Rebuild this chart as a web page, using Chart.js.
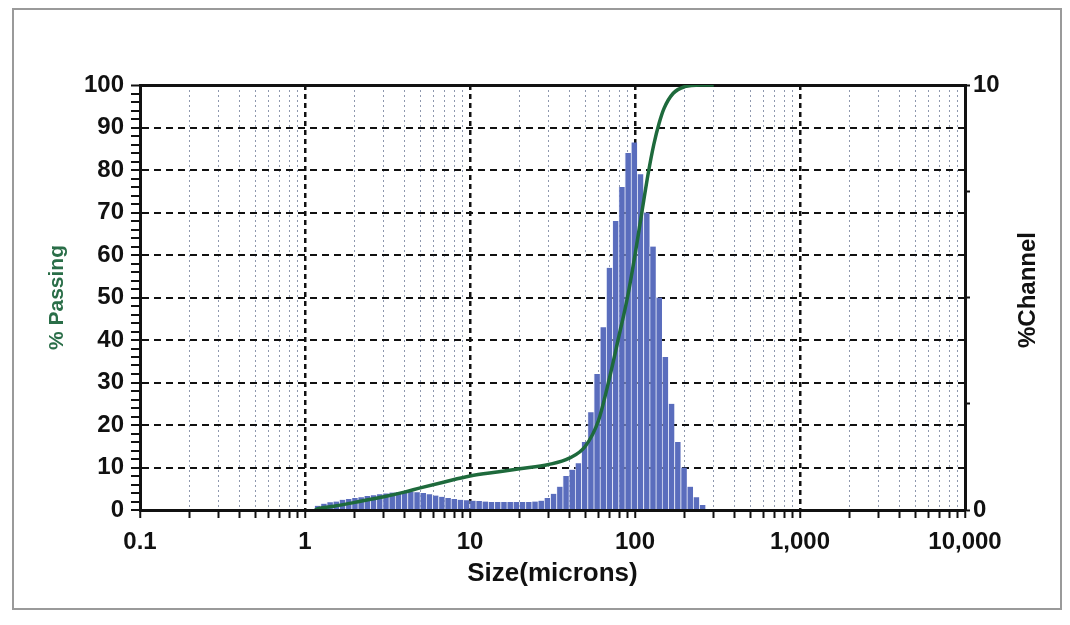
<!DOCTYPE html>
<html>
<head>
<meta charset="utf-8">
<script src="https://cdn.jsdelivr.net/npm/chart.js@4"></script>
<style>
    body { margin: 0; background: #fff; }
    #wrap { position: relative; width: 1070px; height: 625px; }
    #frame {
        position: absolute; left: 12px; top: 8px; width: 1050px; height: 602px;
        border: 2px solid #9a9a9a; box-sizing: border-box;
    }
    #channel-title {
        position: absolute; left: 1027px; top: 290px;
        transform: translate(-50%, -50%) rotate(-90deg);
        font: bold 24px "Liberation Sans", Arial, sans-serif; color: #111; white-space: nowrap;
    }
</style>
</head>
<body>
<div id="wrap">
    <div id="frame"></div>
    <canvas id="chart" width="1070" height="625"></canvas>
    <div id="channel-title">%Channel</div>
</div>
<script>
// channel sizes (microns) and % in channel
const channelSizes = [1.189, 1.297, 1.414, 1.542, 1.682, 1.834, 2.000, 2.181, 2.378, 2.594,
    2.828, 3.084, 3.364, 3.668, 4.000, 4.362, 4.757, 5.187, 5.657, 6.169,
    6.727, 7.336, 8.000, 8.724, 9.514, 10.37, 11.31, 12.34, 13.45, 14.67,
    16.00, 17.45, 19.03, 20.75, 22.63, 24.68, 26.91, 29.34, 32.00, 34.90,
    38.05, 41.50, 45.25, 49.35, 53.82, 58.69, 64.00, 69.79, 76.11, 83.00,
    90.51, 98.70, 107.6, 117.4, 128.0, 139.6, 152.2, 166.0, 181.0, 197.4,
    215.3, 234.8, 256.0];
const channelPct = [0.10, 0.15, 0.18, 0.20, 0.24, 0.26, 0.28, 0.30, 0.33, 0.35,
    0.37, 0.39, 0.41, 0.42, 0.43, 0.43, 0.42, 0.40, 0.37, 0.34,
    0.31, 0.28, 0.26, 0.24, 0.23, 0.22, 0.21, 0.20, 0.19, 0.19,
    0.19, 0.19, 0.19, 0.19, 0.19, 0.20, 0.22, 0.28, 0.38, 0.55,
    0.80, 0.95, 1.10, 1.60, 2.30, 3.20, 4.30, 5.70, 6.80, 7.60,
    8.40, 8.65, 7.90, 7.00, 6.20, 5.00, 3.60, 2.50, 1.60, 1.00,
    0.55, 0.30, 0.12];

// cumulative % passing curve
const passSizes = [1.15, 1.2, 1.5, 2, 3, 4, 5, 7, 10, 15, 20, 30, 40, 50, 60,
    70, 80, 90, 100, 110, 120, 130, 140, 150, 170, 200, 250, 300];
const passPct = [0, 0.3, 0.9, 1.8, 3.1, 4.2, 5.2, 6.6, 8.0, 9.0, 9.7, 10.7, 12.2, 15, 21,
    31, 41, 50, 60, 70, 79, 86, 91, 94.5, 98, 99.6, 100, 100];

// axis ticks
const sizeDecades = [0.1, 1, 10, 100, 1000, 10000];
const sizeLabels = ['0.1', '1', '10', '100', '1,000', '10,000'];
const passingLabels = [0, 10, 20, 30, 40, 50, 60, 70, 80, 90, 100];
const channelTicks = [0, 2.5, 5, 7.5, 10];
const channelLabels = [0, 10];

Chart.defaults.font.family = '"Liberation Sans", Arial, sans-serif';
Chart.defaults.font.weight = 'bold';
Chart.defaults.color = '#111';

const isDecade = v => sizeDecades.some(d => Math.abs(d - v) < 1e-9);

new Chart(document.getElementById('chart'), {
    type: 'bar',
    data: {
        datasets: [
            {
                type: 'line',
                label: '% Passing',
                data: passSizes.map((s, i) => ({ x: s, y: passPct[i] })),
                yAxisID: 'y',
                borderColor: '#1e6a3c',
                borderWidth: 3.5,
                pointRadius: 0,
                cubicInterpolationMode: 'monotone',
                order: 0
            },
            {
                label: '%Channel',
                data: channelSizes.map((s, i) => ({ x: s, y: channelPct[i] })),
                yAxisID: 'y1',
                backgroundColor: '#5a6dbd',
                borderColor: 'rgba(225,230,250,0.45)',
                borderWidth: { left: 1, right: 0, top: 0, bottom: 0 },
                borderSkipped: false,
                barPercentage: 1,
                categoryPercentage: 1,
                order: 1
            }
        ]
    },
    options: {
        responsive: false,
        animation: false,
        layout: { padding: { top: 85, left: 0, right: 0, bottom: 0 } },
        plugins: { legend: { display: false }, tooltip: { enabled: false } },
        scales: {
            x: {
                type: 'logarithmic',
                min: 0.1,
                max: 10000,
                offset: false,
                afterFit: s => { s.height = 115; },
                afterBuildTicks: s => {
                    const t = [];
                    sizeDecades.slice(0, -1).forEach(d => {
                        for (let k = 1; k < 10; k++) t.push({ value: d * k });
                    });
                    t.push({ value: 10000 });
                    s.ticks = t;
                },
                ticks: {
                    autoSkip: false,
                    maxRotation: 0,
                    padding: 10,
                    font: { size: 24 },
                    callback: function (v) {
                        const i = sizeDecades.findIndex(d => Math.abs(d - v) < 1e-9);
                        return i >= 0 ? sizeLabels[i] : '';
                    }
                },
                grid: {
                    offset: false,
                    color: c => isDecade(c.tick.value) ? '#111' : '#8e98ae',
                    lineWidth: c => isDecade(c.tick.value) ? 2.5 : 1,
                    tickColor: '#111',
                    tickWidth: 2,
                    tickLength: 8
                },
                border: {
                    color: '#111', width: 3, z: 1,
                    dash: c => isDecade(c.tick.value) ? [5, 4] : [2, 3]
                },
                title: {
                    display: true,
                    text: 'Size(microns)',
                    font: { size: 26 },
                    padding: { top: 0, bottom: 36 }
                }
            },
            y: {
                position: 'left',
                min: 0,
                max: 100,
                afterFit: s => { s.width = 140; },
                afterBuildTicks: s => {
                    const t = [];
                    for (let v = 0; v <= 100; v += 2) t.push({ value: v });
                    s.ticks = t;
                },
                ticks: {
                    autoSkip: false,
                    padding: 7,
                    font: { size: 24 },
                    callback: v => passingLabels.includes(v) ? String(v) : ''
                },
                grid: {
                    color: c => c.tick.value % 10 === 0 ? '#111' : 'transparent',
                    lineWidth: c => c.tick.value === 100 ? 3 : 2,
                    tickColor: '#111',
                    tickWidth: 2,
                    tickLength: 9
                },
                border: {
                    color: '#111', width: 3,
                    dash: c => c.tick.value === 100 ? [] : [7, 5]
                },
                title: {
                    display: true,
                    text: '% Passing',
                    color: '#2a6e48',
                    font: { size: 21 },
                    padding: { top: 45, bottom: 0 }
                }
            },
            y1: {
                position: 'right',
                min: 0,
                max: 10,
                afterFit: s => { s.width = 105; },
                afterBuildTicks: s => { s.ticks = channelTicks.map(v => ({ value: v })); },
                ticks: {
                    autoSkip: false,
                    padding: 3,
                    font: { size: 24 },
                    callback: v => channelLabels.includes(v) ? String(v) : ''
                },
                grid: {
                    drawOnChartArea: false,
                    tickColor: '#111',
                    tickWidth: 2,
                    tickLength: 5
                },
                border: { color: '#111', width: 3 }
            }
        }
    }
});
</script>
</body>
</html>
